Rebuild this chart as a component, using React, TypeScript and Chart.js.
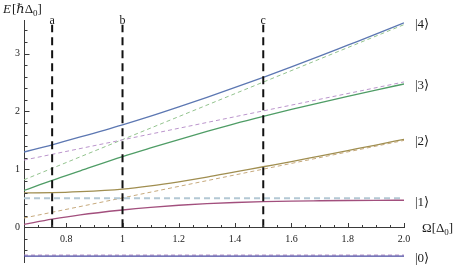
import React, { useEffect, useRef } from 'react';
import { Chart, registerables } from 'chart.js';

Chart.register(...registerables);

// ---- data ----
const omega = [0.65, 0.75, 0.85, 1.0, 1.1, 1.2, 1.3, 1.4, 1.5, 1.6, 1.7, 1.8, 1.9, 2.0];
const level0 = [-0.5, -0.5, -0.5, -0.5, -0.5, -0.5, -0.5, -0.5, -0.5, -0.5, -0.5, -0.5, -0.5, -0.5];
const level1 = [0.05, 0.14, 0.215, 0.298, 0.343, 0.38, 0.408, 0.428, 0.443, 0.453, 0.458, 0.462, 0.465, 0.467];
const level2 = [0.595, 0.598, 0.615, 0.66, 0.715, 0.785, 0.865, 0.955, 1.045, 1.135, 1.23, 1.325, 1.42, 1.52];
const level3 = [0.635, 0.81, 0.975, 1.22, 1.37, 1.515, 1.655, 1.79, 1.915, 2.035, 2.15, 2.262, 2.37, 2.475];
const level4 = [1.3, 1.425, 1.56, 1.77, 1.92, 2.08, 2.245, 2.415, 2.59, 2.77, 2.955, 3.145, 3.335, 3.53];

const asymOmega = [0.65, 2.0];
const asymGround = [-0.48, -0.48];
const asymHalf = [0.5, 0.5];
const asymMinus = [0.16, 1.5];
const asymPlus = [1.16, 2.51];
const asymTwo = [0.82, 3.5];

const markerOmega = [0.75, 1.0, 1.5];
const markerLabels = ['a', 'b', 'c'];
const markerRange = [0, 3.5];

const ketLabels = ['|0⟩', '|1⟩', '|2⟩', '|3⟩', '|4⟩'];
const xTickValues = [0.8, 1.0, 1.2, 1.4, 1.6, 1.8, 2.0];
const xTickText = ['0.8', '1', '1.2', '1.4', '1.6', '1.8', '2.0'];
const yTickValues = [0, 1, 2, 3];
const yTickText = ['0', '1', '2', '3'];

// ---- styles ----
const levelColors = ['#4b4ba2', '#a24f7d', '#a08e50', '#4f9d66', '#5c77b2'];
const axisColor = '#3a3a3a';
const textColor = '#1a1a1a';
const serif = '"Liberation Serif", "DejaVu Serif", serif';

const pts = (xs: number[], ys: number[]) => xs.map((x, i) => ({ x, y: ys[i] }));
const isMult = (v: number, s: number) => Math.abs(v / s - Math.round(v / s)) < 1e-6;

const levels = [level0, level1, level2, level3, level4];

const overlay = {
  id: 'overlay',
  afterDraw(chart: any) {
    const { ctx } = chart;
    const xs = chart.scales.x;
    const ys = chart.scales.y;
    ctx.save();
    // tick marks (inside, Mathematica style)
    ctx.strokeStyle = axisColor;
    ctx.lineWidth = 1;
    const y0 = Math.round(ys.getPixelForValue(0)) + 0.5;
    xs.ticks.forEach((t: any) => {
      const v = t.value;
      if (v <= xs.min + 1e-9) return;
      const px = Math.round(xs.getPixelForValue(v)) + 0.5;
      const len = isMult(v, 0.2) ? 4.5 : 2.5;
      ctx.beginPath();
      ctx.moveTo(px, y0);
      ctx.lineTo(px, y0 - len);
      ctx.stroke();
    });
    const xA = Math.round(xs.left) + 0.5;
    ys.ticks.forEach((t: any) => {
      const v = t.value;
      const py = Math.round(ys.getPixelForValue(v)) + 0.5;
      const len = isMult(v, 1) ? 5 : 3;
      ctx.beginPath();
      ctx.moveTo(xA, py);
      ctx.lineTo(xA + len, py);
      ctx.stroke();
    });

    ctx.fillStyle = textColor;
    // marker labels a, b, c
    ctx.font = `12px ${serif}`;
    ctx.textAlign = 'center';
    ctx.textBaseline = 'alphabetic';
    markerOmega.forEach((m, i) => {
      ctx.fillText(markerLabels[i], xs.getPixelForValue(m), ys.getPixelForValue(markerRange[1]) - 1);
    });

    // ket labels
    ctx.font = `13px ${serif}`;
    ctx.textAlign = 'left';
    ctx.textBaseline = 'middle';
    const xEnd = xs.getPixelForValue(omega[omega.length - 1]);
    levels.forEach((lv, i) => {
      ctx.fillText(ketLabels[i], xEnd + 11, ys.getPixelForValue(lv[lv.length - 1]) + 2);
    });

    // y axis title E[ħΔ0]
    ctx.textBaseline = 'alphabetic';
    let cx = 3;
    const by = 12.5;
    ctx.font = `italic 13px ${serif}`;
    ctx.fillText('E', cx, by);
    cx += ctx.measureText('E').width + 1;
    ctx.font = `13px ${serif}`;
    ctx.fillText('[ℏΔ', cx, by);
    cx += ctx.measureText('[ℏΔ').width;
    ctx.font = `9px ${serif}`;
    ctx.fillText('0', cx, by + 3);
    cx += ctx.measureText('0').width;
    ctx.font = `13px ${serif}`;
    ctx.fillText(']', cx, by);

    // x axis title Ω[Δ0]
    let ox = xEnd + 18;
    const oy = ys.getPixelForValue(0) + 5;
    ctx.font = `13px ${serif}`;
    ctx.fillText('Ω[Δ', ox, oy);
    ox += ctx.measureText('Ω[Δ').width;
    ctx.font = `9px ${serif}`;
    ctx.fillText('0', ox, oy + 3);
    ox += ctx.measureText('0').width;
    ctx.font = `13px ${serif}`;
    ctx.fillText(']', ox, oy);
    ctx.restore();
  },
};

export default function App() {
  const ref = useRef<HTMLCanvasElement>(null);
  useEffect(() => {
    const canvas = ref.current;
    if (!canvas) return;

    const solid = levels.map((lv, i) => ({
      label: ketLabels[i],
      data: pts(omega, lv),
      borderColor: levelColors[i],
      borderWidth: 1.3,
      pointRadius: 0,
      fill: false,
      cubicInterpolationMode: 'monotone' as const,
    }));
    const dashed = [
      { data: pts(asymOmega, asymGround), borderColor: '#b48fc6', borderWidth: 1, borderDash: [4, 3] },
      { data: pts(asymOmega, asymHalf), borderColor: '#b3c8d4', borderWidth: 2, borderDash: [6, 4] },
      { data: pts(asymOmega, asymMinus), borderColor: '#c6a97c', borderWidth: 1, borderDash: [4, 3] },
      { data: pts(asymOmega, asymPlus), borderColor: '#bb95cc', borderWidth: 1, borderDash: [4, 3] },
      { data: pts(asymOmega, asymTwo), borderColor: '#93c38e', borderWidth: 1, borderDash: [4, 3] },
    ].map((d) => ({ ...d, label: '', pointRadius: 0, fill: false }));
    const markers = markerOmega.map((m) => ({
      label: '',
      data: pts([m, m], markerRange),
      borderColor: '#111',
      borderWidth: 2,
      borderDash: [8, 5],
      pointRadius: 0,
      fill: false,
    }));

    const chart = new Chart(canvas, {
      type: 'line',
      data: { datasets: [...markers, ...solid, ...dashed] as any },
      options: {
        animation: false,
        responsive: false,
        events: [],
        layout: { padding: { left: 0, right: 55, top: 20, bottom: 5 } },
        plugins: { legend: { display: false }, tooltip: { enabled: false } },
        scales: {
          x: {
            type: 'linear',
            position: { y: 0 } as any,
            min: 0.65,
            max: 2.0,
            grid: { display: false, drawTicks: false },
            border: { display: true, color: axisColor, width: 1 },
            afterFit: (scale: any) => {
              scale.paddingLeft = 0;
              scale.paddingRight = 0;
              scale.paddingTop = 0;
              scale.paddingBottom = 0;
            },
            ticks: {
              stepSize: 0.05,
              autoSkip: false,
              maxRotation: 0,
              minRotation: 0,
              includeBounds: false,
              padding: 6,
              color: textColor,
              font: { family: serif, size: 10 },
              callback: (v: any) => {
                const i = xTickValues.findIndex((t) => Math.abs(t - Number(v)) < 1e-6);
                return i >= 0 ? xTickText[i] : '';
              },
            },
          },
          y: {
            type: 'linear',
            position: 'left',
            min: -0.6,
            max: 3.58,
            grid: { display: false, drawTicks: false },
            border: { display: true, color: axisColor, width: 1 },
            afterFit: (scale: any) => {
              scale.width = 24;
              scale.paddingTop = 0;
              scale.paddingBottom = 0;
            },
            ticks: {
              stepSize: 0.2,
              autoSkip: false,
              includeBounds: false,
              padding: 4,
              color: textColor,
              font: { family: serif, size: 10 },
              callback: (v: any) => {
                const i = yTickValues.findIndex((t) => Math.abs(t - Number(v)) < 1e-6);
                return i >= 0 ? yTickText[i] : '';
              },
            },
          },
        },
      },
      plugins: [overlay],
    });
    return () => chart.destroy();
  }, []);

  return (
    <div style={{ position: 'fixed', left: 0, top: 0, width: 459, height: 267, background: '#fff' }}>
      <canvas ref={ref} width={459} height={267} style={{ display: 'block', width: 459, height: 267 }} />
    </div>
  );
}
